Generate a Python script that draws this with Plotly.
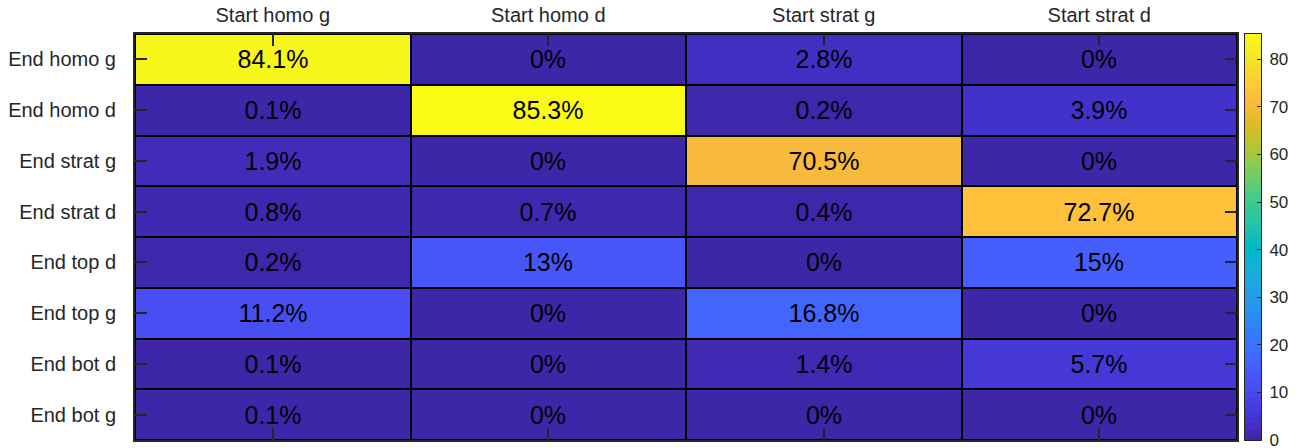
import plotly.graph_objects as go

# Column / row labels of the transition matrix
start_states = ["Start homo g", "Start homo d", "Start strat g", "Start strat d"]
end_states = ["End homo g", "End homo d", "End strat g", "End strat d",
              "End top d", "End top g", "End bot d", "End bot g"]

# Percentages, one list per end state (row), in the order of start_states
row_homo_g = [84.1, 0, 2.8, 0]
row_homo_d = [0.1, 85.3, 0.2, 3.9]
row_strat_g = [1.9, 0, 70.5, 0]
row_strat_d = [0.8, 0.7, 0.4, 72.7]
row_top_d = [0.2, 13, 0, 15]
row_top_g = [11.2, 0, 16.8, 0]
row_bot_d = [0.1, 0, 1.4, 5.7]
row_bot_g = [0.1, 0, 0, 0]

# Colour bar tick values
cbar_ticks = [0, 10, 20, 30, 40, 50, 60, 70, 80]

z = [row_homo_g, row_homo_d, row_strat_g, row_strat_d,
     row_top_d, row_top_g, row_bot_d, row_bot_g]
labels = [[f"{v:g}%" for v in row] for row in z]

# MATLAB parula colormap (64 entries)
parula = [
    (0.2422, 0.1504, 0.6603), (0.2504, 0.1650, 0.7076), (0.2578, 0.1818, 0.7511),
    (0.2647, 0.1978, 0.7952), (0.2706, 0.2147, 0.8364), (0.2751, 0.2342, 0.8710),
    (0.2783, 0.2559, 0.8991), (0.2803, 0.2782, 0.9221), (0.2813, 0.3006, 0.9414),
    (0.2810, 0.3228, 0.9579), (0.2795, 0.3447, 0.9717), (0.2760, 0.3667, 0.9829),
    (0.2699, 0.3892, 0.9906), (0.2602, 0.4123, 0.9952), (0.2440, 0.4358, 0.9988),
    (0.2206, 0.4603, 0.9973), (0.1963, 0.4847, 0.9892), (0.1834, 0.5074, 0.9798),
    (0.1786, 0.5289, 0.9682), (0.1764, 0.5499, 0.9520), (0.1687, 0.5703, 0.9359),
    (0.1540, 0.5902, 0.9218), (0.1460, 0.6091, 0.9079), (0.1380, 0.6276, 0.8973),
    (0.1248, 0.6459, 0.8883), (0.1113, 0.6635, 0.8763), (0.0952, 0.6798, 0.8598),
    (0.0689, 0.6948, 0.8394), (0.0297, 0.7082, 0.8163), (0.0036, 0.7203, 0.7917),
    (0.0067, 0.7312, 0.7660), (0.0433, 0.7411, 0.7394), (0.0964, 0.7500, 0.7120),
    (0.1408, 0.7584, 0.6842), (0.1717, 0.7670, 0.6554), (0.1938, 0.7758, 0.6251),
    (0.2161, 0.7843, 0.5923), (0.2470, 0.7918, 0.5567), (0.2906, 0.7973, 0.5188),
    (0.3406, 0.8008, 0.4789), (0.3909, 0.8029, 0.4354), (0.4456, 0.8024, 0.3909),
    (0.5044, 0.7993, 0.3480), (0.5616, 0.7942, 0.3045), (0.6174, 0.7876, 0.2612),
    (0.6720, 0.7793, 0.2227), (0.7242, 0.7698, 0.1910), (0.7738, 0.7598, 0.1646),
    (0.8203, 0.7498, 0.1535), (0.8634, 0.7406, 0.1596), (0.9035, 0.7330, 0.1774),
    (0.9393, 0.7288, 0.2100), (0.9728, 0.7298, 0.2394), (0.9956, 0.7434, 0.2371),
    (0.9970, 0.7659, 0.2199), (0.9952, 0.7893, 0.2028), (0.9892, 0.8136, 0.1885),
    (0.9786, 0.8386, 0.1766), (0.9676, 0.8639, 0.1643), (0.9610, 0.8890, 0.1537),
    (0.9597, 0.9135, 0.1423), (0.9628, 0.9373, 0.1265), (0.9691, 0.9606, 0.1064),
    (0.9769, 0.9839, 0.0805),
]
n = len(parula) - 1
colorscale = [[i / n, "rgb({},{},{})".format(*[round(c * 255) for c in rgb])]
              for i, rgb in enumerate(parula)]

zmax = max(max(r) for r in z)
# one band per colormap entry for the colour bar strip
cbar_levels = [zmax * i / n for i in range(n + 1)]

FONT = "Liberation Sans, Arial, Helvetica, sans-serif"
INK = "#262626"

fig = go.Figure()

# Main heat map
fig.add_trace(go.Heatmap(
    z=z, x=start_states, y=end_states,
    text=labels, texttemplate="%{text}",
    textfont=dict(size=25, color="black", family=FONT),
    colorscale=colorscale, zmin=0, zmax=zmax,
    xgap=2, ygap=2, showscale=False, hoverinfo="skip",
))

# Colour bar drawn as a narrow heat map on its own axes
fig.add_trace(go.Heatmap(
    z=[[v] for v in cbar_levels], x=[0], y=cbar_levels,
    colorscale=colorscale, zmin=0, zmax=zmax,
    showscale=False, hoverinfo="skip", xaxis="x2", yaxis="y2",
))

axis_common = dict(
    showline=True, linecolor=INK, linewidth=2, mirror="ticks",
    ticks="inside", ticklen=12, tickwidth=2, tickcolor=INK, automargin=False,
    tickfont=dict(size=20, color=INK, family=FONT), showgrid=False, zeroline=False,
)

fig.update_layout(
    width=1300, height=448,
    margin=dict(l=135, r=39, t=34, b=8),
    plot_bgcolor="black", paper_bgcolor="white",
    font=dict(family=FONT, color=INK),
    xaxis=dict(side="top", domain=[0, 0.97869], ticklabelstandoff=2, **axis_common),
    yaxis=dict(autorange="reversed", ticklabelstandoff=13, **axis_common),
    xaxis2=dict(domain=[0.98579, 1.0], anchor="y2", range=[-0.5, 0.5],
                showticklabels=False, ticks="", showgrid=False, zeroline=False,
                showline=True, linecolor=INK, linewidth=1, mirror=True,
                automargin=False),
    yaxis2=dict(anchor="x2", side="right", range=[0, zmax],
                tickmode="array", tickvals=cbar_ticks,
                ticks="inside", ticklen=4, tickwidth=1, tickcolor=INK,
                ticklabelstandoff=4, ticklabeloverflow="allow",
                tickfont=dict(size=17, color=INK, family=FONT),
                showgrid=False, zeroline=False,
                showline=True, linecolor=INK, linewidth=1, mirror=True,
                automargin=False),
)

fig.write_html("out.html")
